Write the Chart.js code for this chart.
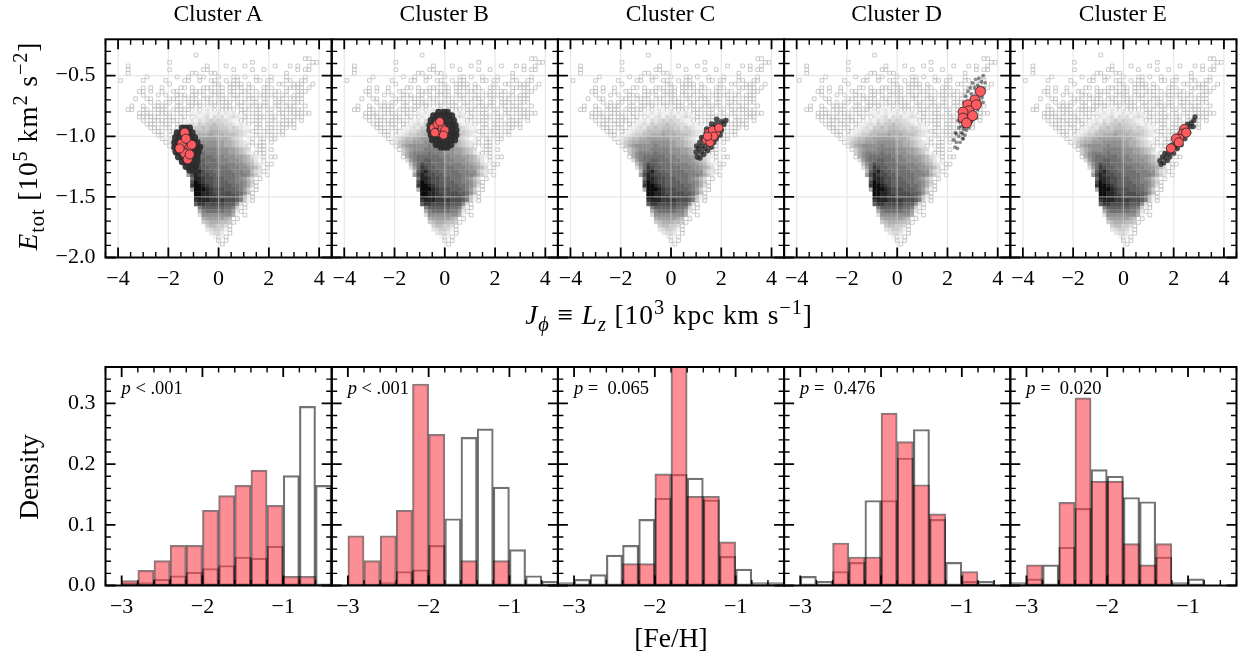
<!DOCTYPE html>
<html>
<head>
<meta charset="utf-8">
<title>Clusters</title>
<script src="https://cdn.jsdelivr.net/npm/chart.js@4"></script>
<style>
  html, body { margin: 0; padding: 0; background: #fff; }
  #page { position: relative; width: 1242px; height: 657px; overflow: hidden; font-family: "Liberation Serif", serif; color: #000; }
  #page canvas { position: absolute; left: 0; top: 0; }
  .txt { position: absolute; white-space: nowrap; transform: translate(-50%, -50%); line-height: 1; }
  .rot { transform: translate(-50%, -50%) rotate(-90deg); }
  .title { font-size: 23.5px; }
  .label { font-size: 27.5px; }
  .wide { letter-spacing: 0.9px; }
  .pval { font-size: 18.5px; transform: none; }
  sub, sup { font-size: 74%; line-height: 0; }
</style>
</head>
<body>
<div id="page"></div>
<script>
// top row: shared background density, one character per cell
// ' ' empty, 'o' outlined low count cell, 1-9 a-f grey level
const heatX0 = -3.9, heatDX = 0.15, heatY0 = -0.33, heatDY = -0.03;
const heatRows = [
  "                    o",
  "                                                 oo",
  "             o                     o               oo",
  "  o                    o    o    o       o   o o  o",
  "  o          o        oo      o    o  o        o oo",
  "  o                oo   oo                  o",
  "       o       o  o  oo   o   oo o  o   o   o    o",
  "o     o     o    oo  o  oo  o oo    oo oo   oo  oo",
  "             o           oo  oooo o    o  oo  ooo  o",
  "      o o  o    oo o  ooo oo oooo oo  ooo   ooooo o",
  "     oo o  o  oo   oooo oooo oo ooo o oo oo o  ooo",
  "      o   o o  ooo oo o oooo oooo oo ooooo oo ooo",
  "    o  oo    ooo oooo ooo ooo oo oooo oo ooo oooo",
  "        o o oo oo oooo ooooooo ooo oo oo oooo ooo",
  "   o  o  oooo  oo ooooo oo ooo oo oooooo oo ooo  o",
  "  oo  oo oooo oooooo1o121o1oooo ooo oo oo ooooooo",
  "     oooo oooo oo o1121211212121oo ooo oo oo oooooo",
  "     oooooo ooo oo o2123132312321oo ooo oo oo ooo",
  "      o oooooooo o12132343433211oo ooo ooo oooo o",
  "       ooo ooo oo12324344544332121o oo oo ooooo",
  "        ooo oo o1232445455544343211 oo ooo oo o",
  "         ooo oo12334555566655444322oo ooo oo",
  "          oo o123445566676665554321 oo ooo o",
  "           o123455667777776665432 1o oo oo",
  "            o2456677788888776654321o oo o",
  "             o46788888988877665432o ooo",
  "              o46788899999888776543 1oo o",
  "               4689999a9998887765421ooo",
  "               o689aaaaaa9998887765321o oo",
  "                379aabbaaa99988876542 o",
  "                 58acbbaaaa999988765321oo",
  "                 37adcbbaaaaa999887653 o",
  "                  5bdecbbaaaaa99988532o",
  "                  7cedccbbaaaaa9998642 o",
  "                   aeedccbbbaaa98753 o",
  "                   cfedccbbbbaa99864o",
  "                   dffedcbbbbbaa9863o",
  "                   6fffedcccbbba9741o",
  "                    ffeedcccccbba85o",
  "                    ffeeddcccccb951o",
  "                    deeeddddcccb941o",
  "                    bddcccccbbb83o",
  "                     9bbbbbbaa941o",
  "                     69aaaaa9972o",
  "                     38888888861 o",
  "                      67777765 o",
  "                      45666554o",
  "                       455443o",
  "                       234431o",
  "                        2332 o",
  "                         1o1o",
  "                          o o",
  "                           o"
];
const greyLevels = ["#f2f2f2", "#e6e6e6", "#dadada", "#cccccc", "#bdbdbd", "#aeaeae", "#9f9f9f", "#909090", "#808080", "#707070", "#606060", "#4e4e4e", "#3a3a3a", "#242424", "#0c0c0c"];

// cluster members, dark points
const darkAx = [-1.45,-1.3,-1.15,-1.65,-1.5,-1.35,-1.2,-1.05,-1.72,-1.55,-1.4,-1.25,-1.1,-0.95,-1.75,-1.6,-1.45,-1.3,-1.15,-1,-0.85,-1.75,-1.6,-1.45,-1.3,-1.15,-1,-0.85,-0.75,-1.7,-1.55,-1.4,-1.25,-1.1,-0.95,-0.8,-1.6,-1.45,-1.3,-1.15,-1,-0.85,-1.45,-1.3,-1.15,-1,-0.85,-1.3,-1.15,-1,-0.9,-1.15,-1];
const darkAy = [-0.93,-0.93,-0.93,-0.97,-0.97,-0.97,-0.97,-0.97,-1.01,-1.01,-1.01,-1.01,-1.01,-1.01,-1.05,-1.05,-1.05,-1.05,-1.05,-1.05,-1.05,-1.09,-1.09,-1.09,-1.09,-1.09,-1.09,-1.09,-1.09,-1.13,-1.13,-1.13,-1.13,-1.13,-1.13,-1.13,-1.17,-1.17,-1.17,-1.17,-1.17,-1.17,-1.21,-1.21,-1.21,-1.21,-1.21,-1.25,-1.25,-1.25,-1.25,-1.28,-1.28];
const darkBx = [-0.25,-0.05,0.1,-0.45,-0.3,-0.15,0,0.15,0.28,-0.55,-0.4,-0.25,-0.1,0.05,0.2,0.35,-0.6,-0.45,-0.3,-0.15,0,0.15,0.3,0.42,-0.6,-0.45,-0.3,-0.15,0,0.15,0.3,0.45,-0.55,-0.4,-0.25,-0.1,0.05,0.2,0.35,0.45,-0.5,-0.35,-0.2,-0.05,0.1,0.25,0.4,-0.35,-0.2,-0.05,0.1,0.25,-0.15,0,0.1];
const darkBy = [-0.8,-0.8,-0.8,-0.83,-0.83,-0.83,-0.83,-0.83,-0.83,-0.87,-0.87,-0.87,-0.87,-0.87,-0.87,-0.87,-0.91,-0.91,-0.91,-0.91,-0.91,-0.91,-0.91,-0.91,-0.95,-0.95,-0.95,-0.95,-0.95,-0.95,-0.95,-0.95,-0.99,-0.99,-0.99,-0.99,-0.99,-0.99,-0.99,-0.99,-1.03,-1.03,-1.03,-1.03,-1.03,-1.03,-1.03,-1.07,-1.07,-1.07,-1.07,-1.07,-1.09,-1.09,-1.09];
const darkCx = [1,1.05,1.15,1.1,1.2,1.3,1.15,1.25,1.35,1.45,1.3,1.4,1.5,1.6,1.4,1.5,1.6,1.7,1.5,1.6,1.7,1.8,1.65,1.75,1.85,1.95,1.8,1.9,2,2.1,2,2.18,1.02,1.22,1.42,1.62,1.82];
const darkCy = [-1.13,-1.17,-1.18,-1.1,-1.13,-1.15,-1.05,-1.08,-1.1,-1.12,-1.02,-1.05,-1.07,-1.09,-0.98,-1.01,-1.03,-1.05,-0.95,-0.97,-1,-1.02,-0.93,-0.95,-0.97,-0.99,-0.9,-0.93,-0.95,-0.9,-0.88,-0.87,-1.08,-1.01,-0.94,-0.9,-0.86];
const darkDx = [2.3,2.25,2.35,2.4,2.45,2.35,2.5,2.45,2.55,2.6,2.5,2.55,2.65,2.42,2.6,2.7,2.52,2.58,2.68,2.75,2.85,2.9,2.95,3,3.05,3.15,3.2,3.25,3.3,2.65,2.72,2.82,2.9,2.95,3,3.08,3.12,3.2,3.25,3.3,3.35,3.42,3.45,3.5,3.38,3.42,2.63,2.31];
const darkDy = [-1.09,-1.03,-1.05,-1.1,-1,-0.98,-1.05,-0.93,-0.97,-1.02,-0.88,-0.92,-0.94,-0.87,-0.98,-0.99,-0.82,-0.78,-0.92,-0.95,-0.93,-0.88,-0.84,-0.8,-0.76,-0.85,-0.78,-0.7,-0.74,-0.72,-0.67,-0.63,-0.6,-0.65,-0.56,-0.6,-0.53,-0.58,-0.52,-0.62,-0.55,-0.5,-0.6,-0.56,-0.68,-0.72,-1.02,-0.97];
const darkEx = [1.45,1.5,1.6,1.55,1.65,1.75,1.65,1.75,1.85,1.8,1.9,2,1.95,2.05,2.15,2.1,2.2,2.3,2.25,2.35,2.45,2.4,2.5,2.6,2.55,2.65,2.7,2.8,2.78,2.85];
const darkEy = [-1.2,-1.23,-1.22,-1.17,-1.18,-1.2,-1.14,-1.15,-1.17,-1.11,-1.13,-1.14,-1.07,-1.09,-1.1,-1.03,-1.05,-1.07,-0.98,-1,-1.02,-0.93,-0.96,-0.97,-0.9,-0.92,-0.89,-0.87,-0.92,-0.84];

// cluster members, red points
const redAx = [-1.35,-1.23,-1.23,-1.47,-1.43,-1.35,-1.07,-1.23,-1.55,-1.15,-1.3];
const redAy = [-0.97,-1.05,-1.1,-1.06,-1.12,-1.14,-1.07,-1.19,-1.1,-1.15,-1.02];
const redBx = [-0.45,-0.3,-0.25,-0.1,0,-0.4,-0.2,-0.05];
const redBy = [-0.93,-0.9,-0.97,-0.93,-0.95,-0.97,-0.88,-0.99];
const redCx = [1.4,1.6,1.8,1.5,1.65,1.9,1.55,1.7,1.45];
const redCy = [-1.03,-1,-0.97,-0.97,-0.95,-0.93,-1.05,-1,-1];
const redDx = [3.31,3.09,2.81,3.15,2.85,2.62,2.81,2.62,2.76,3];
const redDy = [-0.63,-0.7,-0.74,-0.74,-0.79,-0.8,-0.87,-0.85,-0.89,-0.83];
const redEx = [2.42,2.35,2.22,2.09,1.89,2.2,2.5];
const redEy = [-0.94,-0.98,-1.02,-1.02,-1.1,-1.05,-0.97];

// bottom row: [Fe/H] histograms
const binCenter = [-3.1,-2.9,-2.7,-2.5,-2.3,-2.1,-1.9,-1.7,-1.5,-1.3,-1.1,-0.9,-0.7,-0.5];
const redHistA = [null,0.008,0.025,0.041,0.066,0.066,0.124,0.148,0.165,0.19,0.132,0.015,0.015,null];
const allHistA = [null,0.004,0.005,0.01,0.016,0.022,0.028,0.033,0.047,0.045,0.065,0.181,0.295,0.165];
const redHistB = [null,0.082,0.041,0.082,0.124,0.332,0.249,null,0.041,null,0.041,null,null,null];
const allHistB = [null,0.002,0.002,0.005,0.023,0.026,0.066,0.11,0.244,0.258,0.162,0.059,0.016,0.007];
const redHistC = [null,null,null,null,0.036,0.036,0.184,0.37,0.147,0.147,0.072,null,null,null];
const allHistC = [0.005,0.01,0.018,0.05,0.066,0.109,0.144,0.183,0.177,0.141,0.048,0.027,0.005,0.005];
const redHistD = [null,null,null,0.07,0.047,0.047,0.284,0.237,0.166,0.118,null,0.023,null,null];
const allHistD = [null,0.015,0.007,0.023,0.038,0.14,0.14,0.21,0.257,0.109,0.038,0.007,0.007,null];
const redHistE = [null,0.034,null,0.137,0.309,0.172,0.172,0.069,0.034,0.069,null,null,null,null];
const allHistE = [0.005,0.011,0.034,0.063,0.127,0.191,0.18,0.145,0.138,0.047,0.005,0.011,null,null];

const clusterNames = ["Cluster A", "Cluster B", "Cluster C", "Cluster D", "Cluster E"];
const pTexts = ["&lt; .001", "&lt; .001", "= &nbsp;0.065", "= &nbsp;0.476", "= &nbsp;0.020"];

const topXMajor = [-4,-2,0,2,4];
const topYMajor = [-2,-1.5,-1,-0.5];
const topXMinor = [-4.5,-3.5,-3,-2.5,-1.5,-1,-0.5,0.5,1,1.5,2.5,3,3.5,4.5];
const topYMinor = [-1.9,-1.8,-1.7,-1.6,-1.4,-1.3,-1.2,-1.1,-0.9,-0.8,-0.7,-0.6,-0.4,-0.3];
const botXMajor = [-3,-2,-1];
const botYMajor = [0,0.1,0.2,0.3];
const botXMinor = [-3.2,-2.8,-2.6,-2.4,-2.2,-1.8,-1.6,-1.4,-1.2,-0.8,-0.6,-0.4];
const botYMinor = [0.02,0.04,0.06,0.08,0.12,0.14,0.16,0.18,0.22,0.24,0.26,0.28,0.32,0.34];

const W = 1242, H = 657;
const panelLeft = 105.5, panelW = 226.2;
const yAxisRoom = 60, xAxisRoom = 40;
const page = document.getElementById('page');

// decode the grid
const heatX = [], heatY = [], heatFill = [], heatEdge = [], heatEdgeW = [], heatR = [];
heatRows.forEach((row, r) => {
  for (let k = 0; k < row.length; k++) {
    const c = row[k];
    if (c === ' ') continue;
    heatX.push(heatX0 + k * heatDX);
    heatY.push(heatY0 + r * heatDY);
    if (c === 'o') {
      heatFill.push('rgba(255,255,255,0)'); heatEdge.push('#bcbcbc'); heatEdgeW.push(0.8); heatR.push(2.6);
    } else {
      heatFill.push(greyLevels[parseInt(c, 16) - 1]); heatEdge.push('rgba(0,0,0,0)'); heatEdgeW.push(0); heatR.push(2.85);
    }
  }
});
const heatPts = heatX.map((x, i) => ({x: x, y: heatY[i]}));

function pts(xs, ys) { return xs.map((x, i) => ({x: x, y: ys[i]})); }
function minusFmt(v, digits) { return (v < 0 ? '\u2212' : '') + Math.abs(v).toFixed(digits); }

// inward ticks on all four sides, frame on top; light grid goes over the density map
const framePlugin = {
  id: 'frame',
  afterDatasetDraw(chart, args, opts) {
    if (!opts.gridOver || args.index !== chart.data.datasets.length - 1) return;
    const {ctx, chartArea: a, scales: {x, y}} = chart;
    ctx.save();
    ctx.strokeStyle = 'rgba(214,214,214,0.6)';
    ctx.lineWidth = 1.2;
    ctx.beginPath();
    opts.xMajor.forEach(v => { const p = x.getPixelForValue(v); ctx.moveTo(p, a.top); ctx.lineTo(p, a.bottom); });
    opts.yMajor.forEach(v => { const p = y.getPixelForValue(v); ctx.moveTo(a.left, p); ctx.lineTo(a.right, p); });
    ctx.stroke();
    ctx.restore();
  },
  afterDraw(chart, args, opts) {
    const {ctx, chartArea: a, scales: {x, y}} = chart;
    ctx.save();
    ctx.strokeStyle = '#000';
    const marks = (xs, ys, len, w) => {
      ctx.lineWidth = w;
      ctx.beginPath();
      xs.forEach(v => {
        const p = x.getPixelForValue(v);
        ctx.moveTo(p, a.top); ctx.lineTo(p, a.top + len);
        ctx.moveTo(p, a.bottom); ctx.lineTo(p, a.bottom - len);
      });
      ys.forEach(v => {
        const p = y.getPixelForValue(v);
        ctx.moveTo(a.left, p); ctx.lineTo(a.left + len, p);
        ctx.moveTo(a.right, p); ctx.lineTo(a.right - len, p);
      });
      ctx.stroke();
    };
    marks(opts.xMajor, opts.yMajor, 10, 1.8);
    marks(opts.xMinor, opts.yMinor, 5.5, 1.4);
    ctx.lineWidth = 2;
    ctx.strokeRect(a.left, a.top, a.right - a.left, a.bottom - a.top);
    ctx.restore();
  }
};

function addCanvas() {
  const c = document.createElement('canvas');
  c.width = W; c.height = H;
  c.style.width = W + 'px'; c.style.height = H + 'px';
  page.appendChild(c);
  return c;
}

function axisOptions(cfg, showY) {
  const tickFont = {family: '"Liberation Serif", serif', size: 22};
  return {
    x: {
      type: 'linear', min: cfg.xMin, max: cfg.xMax, offset: false,
      grid: {display: false, drawTicks: false, offset: false}, border: {display: false},
      afterBuildTicks: s => { s.ticks = cfg.xMajor.map(v => ({value: v})); },
      afterFit: s => { s.height = xAxisRoom; },
      ticks: {color: '#000', font: tickFont, padding: 9, maxRotation: 0, autoSkip: false,
        callback: v => minusFmt(v, 0)}
    },
    y: {
      type: 'linear', min: cfg.yMin, max: cfg.yMax,
      grid: {display: false, drawTicks: false}, border: {display: false},
      afterBuildTicks: s => { s.ticks = cfg.yMajor.map(v => ({value: v})); },
      afterFit: s => { s.width = yAxisRoom; },
      ticks: {display: showY, color: '#000', font: tickFont, padding: 10, autoSkip: false,
        callback: v => minusFmt(v, 1)}
    }
  };
}

function sharedOptions(cfg, i, top, bottom, gridOver) {
  const l = panelLeft + i * panelW;
  return {
    responsive: false, animation: false,
    layout: {padding: {left: l - yAxisRoom, right: W - l - panelW, top: top, bottom: H - bottom - xAxisRoom}},
    scales: axisOptions(cfg, i === 0),
    plugins: {legend: {display: false}, tooltip: {enabled: false},
      frame: {gridOver: gridOver, xMajor: cfg.xMajor, yMajor: cfg.yMajor, xMinor: cfg.xMinor, yMinor: cfg.yMinor}}
  };
}

const topCfg = {xMin: -4.5, xMax: 4.5, yMin: -2, yMax: -0.2, xMajor: topXMajor, yMajor: topYMajor, xMinor: topXMinor, yMinor: topYMinor};
const botCfg = {xMin: -3.2, xMax: -0.4, yMin: 0, yMax: 0.36, xMajor: botXMajor, yMajor: botYMajor, xMinor: botXMinor, yMinor: botYMinor};

const darks = [[darkAx, darkAy, 3.4, 'rgba(45,45,45,0.92)'], [darkBx, darkBy, 3.4, 'rgba(45,45,45,0.92)'], [darkCx, darkCy, 2.8, 'rgba(40,40,40,0.8)'], [darkDx, darkDy, 1.9, 'rgba(30,30,30,0.5)'], [darkEx, darkEy, 2.6, 'rgba(40,40,40,0.8)']];
const reds = [[redAx, redAy, 4.6], [redBx, redBy, 4.2], [redCx, redCy, 4.2], [redDx, redDy, 5], [redEx, redEy, 4.6]];
const hists = [[redHistA, allHistA], [redHistB, allHistB], [redHistC, allHistC], [redHistD, allHistD], [redHistE, allHistE]];

clusterNames.forEach((name, i) => {
  new Chart(addCanvas(), {
    type: 'scatter',
    data: {datasets: [
      {data: pts(reds[i][0], reds[i][1]), pointRadius: reds[i][2], pointBackgroundColor: '#ff5a60', pointBorderColor: '#3a2a2a', pointBorderWidth: 0.9},
      {data: pts(darks[i][0], darks[i][1]), pointRadius: darks[i][2], pointBackgroundColor: darks[i][3], pointBorderWidth: 0},
      {data: heatPts, pointStyle: 'rect', pointRadius: heatR, pointBackgroundColor: heatFill, pointBorderColor: heatEdge, pointBorderWidth: heatEdgeW}
    ]},
    options: sharedOptions(topCfg, i, 39.3, 257.5, true),
    plugins: [framePlugin]
  });

  new Chart(addCanvas(), {
    type: 'bar',
    data: {datasets: [
      {data: pts(binCenter, hists[i][0]), backgroundColor: 'rgba(250,68,80,0.6)', borderColor: 'rgba(0,0,0,0.5)', borderWidth: 1.5, borderSkipped: false, grouped: false, barPercentage: 1, categoryPercentage: 1},
      {data: pts(binCenter, hists[i][1]), backgroundColor: 'rgba(255,255,255,0)', borderColor: 'rgba(0,0,0,0.55)', borderWidth: 1.5, borderSkipped: false, grouped: false, barPercentage: 1, categoryPercentage: 1}
    ]},
    options: sharedOptions(botCfg, i, 367, 585.5, false),
    plugins: [framePlugin]
  });

  const cx = panelLeft + (i + 0.5) * panelW;
  addText(name, cx - 0.5, 14, 'title');
  addText('<i>p</i> ' + pTexts[i], panelLeft + i * panelW + 16, 379, 'pval');
});

function addText(html, x, y, cls) {
  const d = document.createElement('div');
  d.className = 'txt ' + cls;
  d.style.left = x + 'px'; d.style.top = y + 'px';
  d.innerHTML = html;
  page.appendChild(d);
}

addText('<i>E</i><sub>tot</sub> [10<sup>5</sup> km<sup>2</sup> s<sup>\u22122</sup>]', 28, 146, 'label rot wide');
addText('<i>J</i><sub><i>\u03d5</i></sub> \u2261 <i>L</i><sub><i>z</i></sub> [10<sup>3</sup> kpc km s<sup>\u22121</sup>]', 669, 315, 'label wide');
addText('Density', 29, 477, 'label rot');
addText('[Fe/H]', 671, 638, 'label');
</script>
</body>
</html>
